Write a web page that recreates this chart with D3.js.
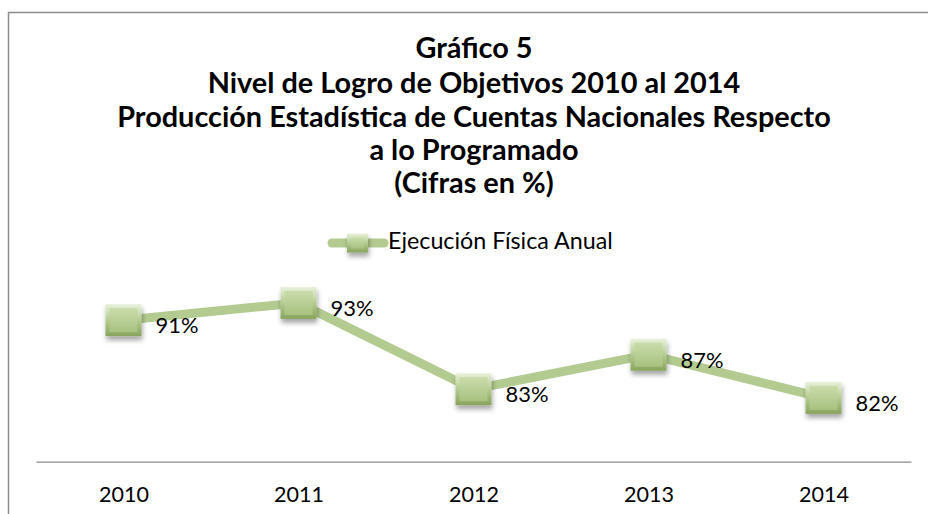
<!DOCTYPE html>
<html>
<head>
<meta charset="utf-8">
<script src="https://cdn.jsdelivr.net/npm/d3@7"></script>
<style>
body{margin:0;background:#fff;}
svg{display:block;}
</style>
</head>
<body>
<svg id="chart" width="928" height="514"></svg>
<script>
// data
var years = ["2010", "2011", "2012", "2013", "2014"];
var ejecucion = [91, 93, 83, 87, 82];
var seriesName = "Ejecución Física Anual";
var titleLines = ["Gráfico 5",
  "Nivel de Logro de Objetivos 2010 al 2014",
  "Producción Estadística de Cuentas Nacionales Respecto",
  "a lo Programado",
  "(Cifras en %)"];

var svg = d3.select("#chart");
var font = "Lato, 'Open Sans', sans-serif";

// scale a text's font-size so it takes the wanted width
function fitSize(txt, bold, target){
  var t = svg.append("text").attr("font-family", font).attr("font-size", 20)
    .attr("font-weight", bold ? "bold" : "normal").text(txt);
  var w = t.node().getComputedTextLength();
  t.remove();
  return 20 * target / w;
}

var titleSize = fitSize(titleLines[2], true, 714);
var labelSize = fitSize("91%", false, 43);
var yearSize = fitSize("2010", false, 50);
var legendSize = fitSize(seriesName, false, 225);

var defs = svg.append("defs");
var edge = defs.append("linearGradient").attr("id", "edge").attr("x1", 0).attr("y1", 0).attr("x2", 0).attr("y2", 1);
edge.append("stop").attr("offset", "0%").attr("stop-color", "#e9f1dc");
edge.append("stop").attr("offset", "50%").attr("stop-color", "#b4cc91");
edge.append("stop").attr("offset", "100%").attr("stop-color", "#87a45c");
var face = defs.append("linearGradient").attr("id", "face").attr("x1", 0).attr("y1", 0).attr("x2", 0).attr("y2", 1);
face.append("stop").attr("offset", "0%").attr("stop-color", "#c9dcab");
face.append("stop").attr("offset", "100%").attr("stop-color", "#a8c27f");
var sh = defs.append("filter").attr("id", "shadow").attr("x", "-40%").attr("y", "-40%").attr("width", "180%").attr("height", "180%");
sh.append("feDropShadow").attr("dx", 1).attr("dy", 4).attr("stdDeviation", 2.5)
  .attr("flood-color", "#000").attr("flood-opacity", 0.35);

// outer border (runs off the right and bottom edges)
svg.append("rect").attr("x", 8.5).attr("y", 12.5).attr("width", 960).attr("height", 560)
  .attr("fill", "none").attr("stroke", "#8c8c8c").attr("stroke-width", 1.5);

// title
var tBase = [58, 93, 127, 160, 193];
svg.append("g").selectAll("text").data(titleLines).join("text")
  .attr("x", 474).attr("y", (d, i) => tBase[i])
  .attr("text-anchor", "middle").attr("font-family", font).attr("font-weight", "bold")
  .attr("font-size", titleSize).attr("fill", "#000").text(d => d);

var x = d3.scalePoint().domain(years).range([36, 911]).padding(0.5);
var y = d3.scaleLinear().domain([74.6, 100]).range([461.7, 242.5]);

function marker(g, w, h){
  g.append("rect").attr("x", -w / 2).attr("y", -h / 2).attr("width", w).attr("height", h)
    .attr("fill", "url(#edge)").attr("filter", "url(#shadow)");
  g.append("rect").attr("x", -w / 2 + 4).attr("y", -h / 2 + 4).attr("width", w - 8).attr("height", h - 8)
    .attr("fill", "url(#face)");
}

// legend
var leg = svg.append("g");
leg.append("line").attr("x1", 332).attr("x2", 384).attr("y1", 243).attr("y2", 243)
  .attr("stroke", "#b3cb91").attr("stroke-width", 9).attr("stroke-linecap", "round");
leg.append("g").attr("transform", "translate(357.5,243)").call(marker, 21, 19);
leg.append("text").attr("x", 388).attr("y", 249).attr("font-family", font)
  .attr("font-size", legendSize).attr("fill", "#000").text(seriesName);

// x axis
var ax = svg.append("g").attr("transform", "translate(0,461.7)")
  .call(d3.axisBottom(x).tickSize(0).tickSizeOuter(0));
ax.select(".domain").attr("stroke", "#8a8a8a").attr("stroke-width", 1.3);
ax.selectAll("text").attr("y", 40).attr("dy", 0).attr("font-family", font)
  .attr("font-size", yearSize).attr("fill", "#000");

var pts = years.map((d, i) => ({year: d, v: ejecucion[i]}));

svg.append("path").datum(pts)
  .attr("d", d3.line().x(d => x(d.year)).y(d => y(d.v)))
  .attr("fill", "none").attr("stroke", "#b3cb91").attr("stroke-width", 9)
  .attr("stroke-linejoin", "round");

svg.append("g").selectAll("g").data(pts).join("g")
  .attr("transform", d => "translate(" + x(d.year) + "," + y(d.v) + ")")
  .each(function(){ marker(d3.select(this), 36, 32); });

svg.append("g").selectAll("text").data(pts).join("text")
  .attr("x", d => x(d.year) + 32).attr("y", d => y(d.v) + 13)
  .attr("font-family", font).attr("font-size", labelSize).attr("fill", "#000")
  .text(d => d.v + "%");
</script>
</body>
</html>
